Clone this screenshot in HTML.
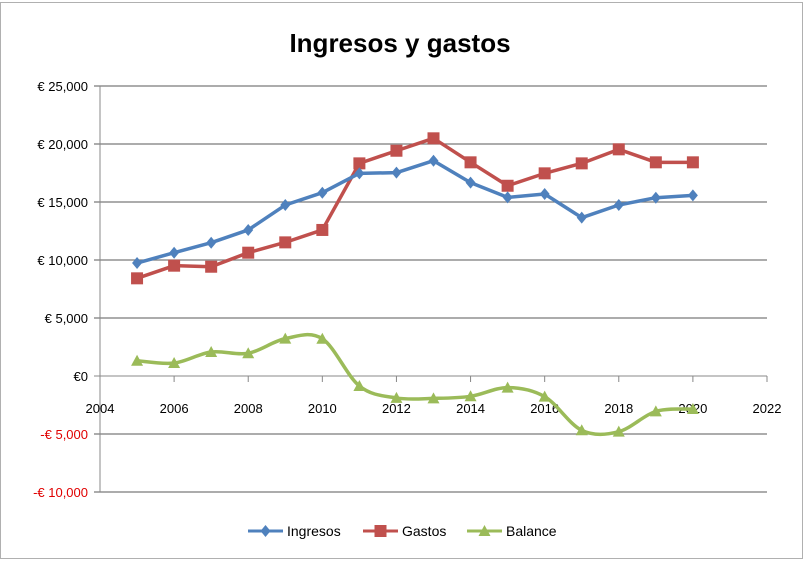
<!DOCTYPE html>
<html><head><meta charset="utf-8"><style>
html,body{margin:0;padding:0;background:#fff;}
svg{display:block;font-family:"Liberation Sans",sans-serif;}
</style></head><body>
<svg id="chart" width="806" height="563" viewBox="0 0 806 563">
<rect x="0.5" y="2.5" width="802" height="556" fill="#fff" stroke="#b0b0b0"/>
<text x="400" y="52" text-anchor="middle" font-size="26" font-weight="bold" fill="#000">Ingresos y gastos</text>
<g id="grid"></g><g id="series"></g><g id="legend"></g>
</svg>
<script>
const years=[2005,2006,2007,2008,2009,2010,2011,2012,2013,2014,2015,2016,2017,2018,2019,2020];
const ingresos=[9740,10630,11490,12590,14740,15800,17470,17530,18560,16670,15400,15690,13650,14740,15370,15570];
const gastos=[8420,9510,9420,10630,11520,12590,18330,19420,20490,18420,16400,17470,18330,19540,18420,18420];
const balance=[1320,1120,2070,1960,3220,3210,-860,-1890,-1930,-1750,-1000,-1780,-4680,-4800,-3050,-2850];
const yTicks=[25000,20000,15000,10000,5000,0,-5000,-10000];
const yTickLabels=["€ 25,000","€ 20,000","€ 15,000","€ 10,000","€ 5,000","€0","-€ 5,000","-€ 10,000"];
const xTicks=[2004,2006,2008,2010,2012,2014,2016,2018,2020,2022];
const NS="http://www.w3.org/2000/svg";
const X0=100,X1=767,Y0=376,PX=58/5000;
const xs=v=>X0+(v-2004)/(2022-2004)*(X1-X0);
const ys=v=>Y0-v*PX;
function mk(tag,attrs,parent){const e=document.createElementNS(NS,tag);for(const k in attrs)e.setAttribute(k,attrs[k]);parent.appendChild(e);return e;}
const grid=document.getElementById('grid');
yTicks.forEach((t,i)=>{
  const l=mk('line',{x1:X0-6,x2:X1,y1:ys(t),y2:ys(t),stroke:t===0?'#888':'#7a7a7a','stroke-width':t===0?1:1.3},grid);
  
  
  const tx=mk('text',{x:X0-12,y:ys(t)+5,'text-anchor':'end','font-size':13,fill:t<0?'#e00000':'#000'},grid);
  tx.textContent=yTickLabels[i];
  
  
});
const ax=mk('line',{x1:X0,x2:X0,y1:ys(25000),y2:ys(-10000),stroke:'#888'},grid);


xTicks.forEach(t=>{
  const l=mk('line',{x1:xs(t),x2:xs(t),y1:Y0,y2:Y0+6,stroke:'#888'},grid);
  
  
  const tx=mk('text',{x:xs(t),y:Y0+37,'text-anchor':'middle','font-size':13,fill:'#000'},grid);
  tx.textContent=t;
  
  
});
const g=document.getElementById('series');
function smoothPath(pts){let d='M'+pts[0][0]+','+pts[0][1];for(let i=0;i<pts.length-1;i++){const p0=pts[i-1]||pts[i],p1=pts[i],p2=pts[i+1],p3=pts[i+2]||p2;const c1=[p1[0]+(p2[0]-p0[0])/6,p1[1]+(p2[1]-p0[1])/6],c2=[p2[0]-(p3[0]-p1[0])/6,p2[1]-(p3[1]-p1[1])/6];d+=' C'+c1+' '+c2+' '+p2;}return d;}
function marker(type,x,y,color,parent){
  if(type==='diamond')return mk('path',{d:`M${x},${y-6}L${x+5},${y}L${x},${y+6}L${x-5},${y}Z`,fill:color},parent);
  if(type==='square')return mk('rect',{x:x-6,y:y-6,width:12,height:12,fill:color},parent);
  return mk('path',{d:`M${x},${y-6}L${x+6},${y+5}L${x-6},${y+5}Z`,fill:color},parent);
}
function series(vals,color,type,name,smooth){
  const pts=vals.map((v,i)=>[xs(years[i]),ys(v)]);
  const p=mk('path',{d:smooth?smoothPath(pts):'M'+pts.map(q=>q.join(',')).join('L'),fill:'none',stroke:color,'stroke-width':3.5,'stroke-linejoin':'round'},g);
  
  
  pts.forEach(q=>{const m=marker(type,q[0],q[1],color,g);
    
    });
}
series(balance,'#9bbb59','tri','balance',true);
series(gastos,'#c0504d','square','gastos',false);
series(ingresos,'#4f81bd','diamond','ingresos',false);
const lg=document.getElementById('legend');
[['Ingresos','#4f81bd','diamond',248],['Gastos','#c0504d','square',363],['Balance','#9bbb59','tri',467]].forEach(e=>{
  const grp=mk('g',{},lg);
  
  
  mk('line',{x1:e[3],x2:e[3]+35,y1:531,y2:531,stroke:e[1],'stroke-width':3},grp);
  marker(e[2],e[3]+17.5,531,e[1],grp);
  const t=mk('text',{x:e[3]+39,y:536,'font-size':14,fill:'#000'},grp);
  t.textContent=e[0];
});
</script>
</body></html>
